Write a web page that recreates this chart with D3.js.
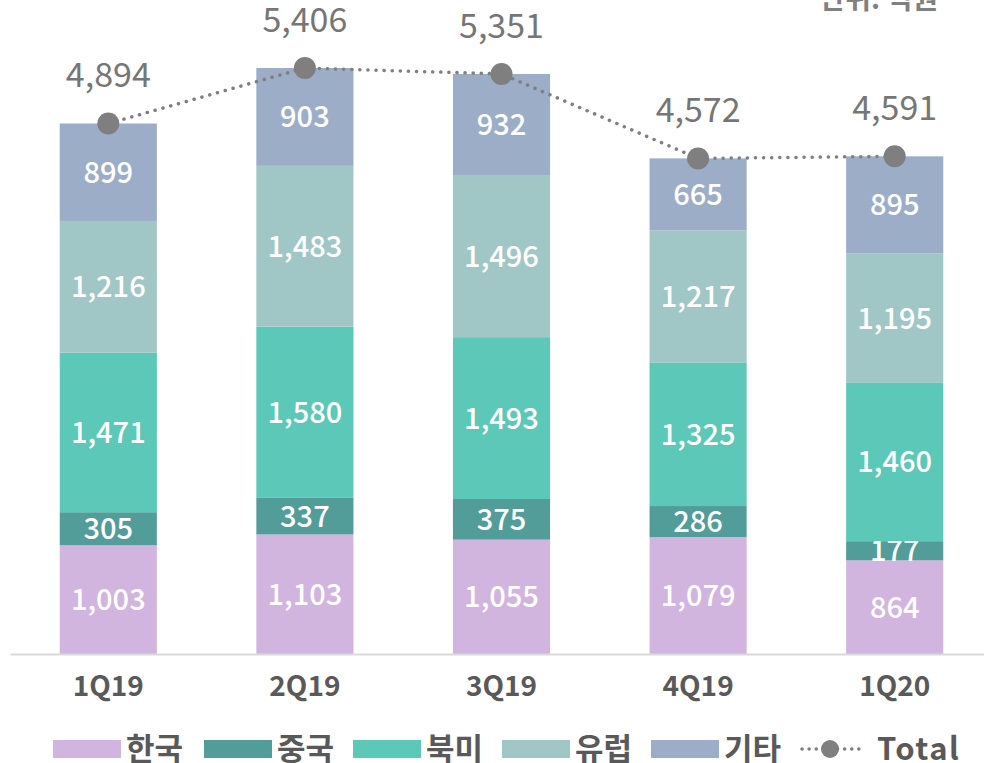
<!DOCTYPE html>
<html>
<head>
<meta charset="utf-8">
<script src="https://cdn.jsdelivr.net/npm/d3@7"></script>
<style>
  body { margin: 0; background: #fff; }
  text { font-family: "Noto Sans CJK KR", "Noto Sans", sans-serif; }
</style>
</head>
<body>
<div id="chart"></div>
<script>
// quarters and series (unit: 억원)
const quarters = ["1Q19", "2Q19", "3Q19", "4Q19", "1Q20"];
const seriesNames = ["한국", "중국", "북미", "유럽", "기타"];
const korea  = [1003, 1103, 1055, 1079, 864];
const china  = [305, 337, 375, 286, 177];
const usa    = [1471, 1580, 1493, 1325, 1460];
const europe = [1216, 1483, 1496, 1217, 1195];
const others = [899, 903, 932, 665, 895];
const totals = [4894, 5406, 5351, 4572, 4591];
const colors = ["#d1b5de", "#529d99", "#5cc8b8", "#a0c7c6", "#9cadc7"];

const width = 984, height = 763;
const baseY = 654;

const svg = d3.select("#chart").append("svg")
  .attr("width", width)
  .attr("height", height);

// build rows for the stack
const rows = quarters.map((q, i) => ({
  quarter: q,
  "한국": korea[i], "중국": china[i], "북미": usa[i], "유럽": europe[i], "기타": others[i],
  total: totals[i]
}));

const x = d3.scaleBand()
  .domain(quarters)
  .range([10, 993])
  .paddingInner(0.506)
  .paddingOuter(0.253);

const y = d3.scaleLinear()
  .domain([0, 5406])
  .range([baseY, 68]);

const color = d3.scaleOrdinal().domain(seriesNames).range(colors);

const stacked = d3.stack().keys(seriesNames)(rows);

// bars
const layer = svg.selectAll(".layer")
  .data(stacked)
  .enter().append("g")
  .attr("class", "layer")
  .attr("fill", d => color(d.key));

layer.selectAll("rect")
  .data(d => d)
  .enter().append("rect")
  .attr("x", d => x(d.data.quarter))
  .attr("y", d => y(d[1]))
  .attr("width", x.bandwidth())
  .attr("height", d => y(d[0]) - y(d[1]));

// segment labels
layer.selectAll("text")
  .data(d => d)
  .enter().append("text")
  .attr("x", d => x(d.data.quarter) + x.bandwidth() / 2)
  .attr("y", d => (y(d[0]) + y(d[1])) / 2)
  .attr("dy", "0.36em")
  .attr("text-anchor", "middle")
  .attr("fill", "#fff")
  .style("font-size", "29px")
  .style("font-weight", 500)
  .text(d => d3.format(",")(d[1] - d[0]));

// x axis
const xAxis = svg.append("g")
  .attr("transform", `translate(0,${baseY})`)
  .call(d3.axisBottom(x).tickSize(0).tickPadding(22));
xAxis.select(".domain").attr("stroke", "#d9d9d9").attr("stroke-width", 2);
xAxis.selectAll("text")
  .style("font-size", "28px")
  .style("font-weight", 700)
  .attr("fill", "#595959");

// total line
const line = d3.line()
  .x(d => x(d.quarter) + x.bandwidth() / 2)
  .y(d => y(d.total));

svg.append("path")
  .datum(rows)
  .attr("fill", "none")
  .attr("stroke", "#7f7f7f")
  .attr("stroke-width", 3.5)
  .attr("stroke-linecap", "round")
  .attr("stroke-dasharray", "0.1,8")
  .attr("d", line);

svg.selectAll(".dot")
  .data(rows)
  .enter().append("circle")
  .attr("class", "dot")
  .attr("cx", d => x(d.quarter) + x.bandwidth() / 2)
  .attr("cy", d => y(d.total))
  .attr("r", 11)
  .attr("fill", "#7f7f7f");

svg.selectAll(".total-label")
  .data(rows)
  .enter().append("text")
  .attr("class", "total-label")
  .attr("x", d => x(d.quarter) + x.bandwidth() / 2)
  .attr("y", d => y(d.total) - 36)
  .attr("text-anchor", "middle")
  .attr("fill", "#767676")
  .style("font-size", "34px")
  .text(d => d3.format(",")(d.total));

// unit note, cut off at the top
svg.append("text")
  .attr("x", 938)
  .attr("y", 9)
  .attr("text-anchor", "end")
  .attr("fill", "#808080")
  .style("font-size", "28px")
  .style("font-weight", 700)
  .text("단위: 억원");

// legend
const legendPos = [53, 204, 353, 502, 651];
const legend = svg.selectAll(".legend")
  .data(seriesNames)
  .enter().append("g")
  .attr("class", "legend")
  .attr("transform", (d, i) => `translate(${legendPos[i]},740)`);

legend.append("rect")
  .attr("width", 68)
  .attr("height", 18)
  .attr("fill", d => color(d));

legend.append("text")
  .attr("x", 73)
  .attr("y", 9)
  .attr("dy", "0.36em")
  .attr("fill", "#595959")
  .style("font-size", "31px")
  .style("font-weight", 700)
  .text(d => d);

const tl = svg.append("g").attr("transform", "translate(802,749)");
tl.append("line")
  .attr("x1", 0).attr("x2", 57)
  .attr("stroke", "#7f7f7f")
  .attr("stroke-width", 3.5)
  .attr("stroke-linecap", "round")
  .attr("stroke-dasharray", "0.1,7");
tl.append("circle").attr("cx", 28).attr("r", 9).attr("fill", "#7f7f7f");
tl.append("text")
  .attr("x", 75)
  .attr("dy", "0.36em")
  .attr("fill", "#595959")
  .style("font-size", "31px")
  .style("font-weight", 700)
  .style("letter-spacing", "1.5px")
  .text("Total");
</script>
</body>
</html>
